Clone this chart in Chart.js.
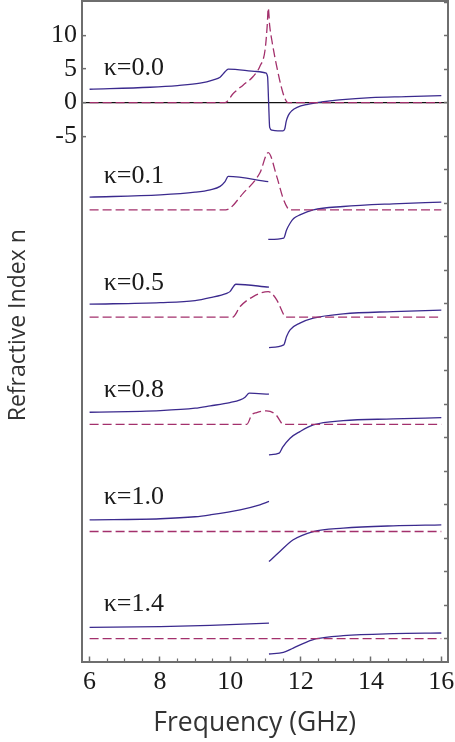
<!DOCTYPE html>
<html><head><meta charset="utf-8">
<script src="https://cdn.jsdelivr.net/npm/chart.js@4.4.0/dist/chart.umd.min.js"></script>
<style>html,body{margin:0;padding:0;background:#fff;}#wrap{width:455px;height:742px;position:relative;}</style>
</head><body><div id="wrap"><canvas id="c"></canvas></div>
<script>
// ---- data ----
const xTickValues = [6, 8, 10, 12, 14, 16];
const yTickValues = [10, 5, 0, -5];
const kappaLabels = ['κ=0.0', 'κ=0.1', 'κ=0.5', 'κ=0.8', 'κ=1.0', 'κ=1.4'];
const offsets = [0, -16, -32, -48, -64, -80];

// κ=0.0  (real part n, solid) and (imag part, dashed)
const reF_00 = [6.0, 7.72, 8.5, 9.14, 9.52, 9.71, 9.85, 9.94, 10.75, 11.0, 11.06, 11.09, 11.12, 11.18, 11.35, 11.5, 11.55, 11.59, 11.65, 11.75, 11.9, 12.2, 12.6, 13.1, 14.0, 15.0, 16.0];
const reN_00 = [2.0, 2.3, 2.55, 2.9, 3.4, 3.8, 4.6, 5.0, 4.65, 4.45, 3.9, 0.0, -3.7, -4.1, -4.2, -4.2, -3.9, -2.8, -1.9, -1.2, -0.7, -0.25, 0.1, 0.4, 0.75, 0.9, 1.05];
const imF_00 = [6.0, 9.85, 10.09, 10.37, 10.65, 10.84, 10.99, 11.05, 11.08, 11.12, 11.18, 11.32, 11.5, 11.6, 11.64, 16.0];
const imN_00 = [0, 0, 1.4, 2.65, 3.9, 5.4, 7.9, 11.5, 14.1, 11.5, 9.35, 5.4, 1.4, 0.15, 0, 0];

// κ=0.1
const reF_01 = [6.0, 8.01, 9.0, 9.43, 9.71, 9.85, 9.94, 11.08, 11.08, 11.08, 11.52, 11.6, 11.7, 11.8, 11.98, 12.36, 13.21, 14.63, 16.0];
const reN_01 = [1.9, 2.24, 2.64, 3.0, 3.5, 4.2, 5.0, 4.2, null, -4.4, -4.2, -3.0, -2.0, -1.3, -0.75, 0.0, 0.5, 0.9, 1.15];
const imF_01 = [6.0, 9.87, 10.37, 10.84, 11.08, 11.32, 11.5, 11.63, 11.67, 16.0];
const imN_01 = [0, 0, 2.5, 5.5, 8.55, 5.0, 1.75, 0.25, 0, 0];

// κ=0.5
const reF_05 = [6.0, 8.01, 9.0, 9.43, 9.9, 9.99, 10.16, 11.1, 11.1, 11.1, 11.52, 11.6, 11.7, 11.98, 12.36, 13.21, 14.63, 16.0];
const reN_05 = [1.92, 2.16, 2.46, 2.9, 3.55, 3.8, 4.9, 4.46, null, -4.55, -4.15, -2.9, -1.9, -0.9, -0.16, 0.48, 0.82, 1.03];
const imF_05 = [6.0, 10.07, 10.28, 10.65, 11.08, 11.32, 11.52, 11.56, 16.0];
const imN_05 = [0, 0, 1.57, 3.06, 3.8, 2.57, 0.33, 0, 0];

// κ=0.8
const reF_08 = [6.0, 8.01, 9.0, 9.43, 9.99, 10.28, 10.42, 10.54, 11.1, 11.1, 11.1, 11.39, 11.49, 11.7, 11.98, 12.36, 13.21, 14.63, 16.0];
const reN_08 = [1.8, 2.05, 2.4, 2.75, 3.24, 3.64, 4.04, 4.64, 4.49, null, -4.56, -4.31, -3.42, -2.07, -1.09, -0.09, 0.55, 0.8, 1.0];
const imF_08 = [6.0, 10.47, 10.61, 10.75, 11.03, 11.3, 11.46, 11.49, 16.0];
const imN_08 = [0, 0, 1.4, 1.75, 2.0, 1.4, 0.15, 0, 0];

// κ=1.0
const reF_10 = [6.0, 8.01, 9.0, 9.43, 10.28, 10.84, 11.1, 11.1, 11.1, 11.41, 11.79, 12.36, 13.21, 14.63, 16.0];
const reN_10 = [1.75, 1.9, 2.2, 2.49, 3.24, 3.98, 4.48, null, -4.48, -2.98, -1.24, 0.0, 0.5, 0.85, 1.0];
const imF_10 = [6.0, 16.0];
const imN_10 = [0, 0];

// κ=1.4
const reF_14 = [6.0, 8.01, 9.43, 11.1, 11.1, 11.1, 11.51, 11.79, 12.17, 12.45, 13.21, 14.63, 16.0];
const reN_14 = [1.69, 1.79, 1.98, 2.34, null, -2.28, -2.04, -1.39, -0.5, 0.0, 0.45, 0.75, 0.85];
const imF_14 = [6.0, 16.0];
const imN_14 = [0, 0];

const reF = [reF_00, reF_01, reF_05, reF_08, reF_10, reF_14];
const reN = [reN_00, reN_01, reN_05, reN_08, reN_10, reN_14];
const imF = [imF_00, imF_01, imF_05, imF_08, imF_10, imF_14];
const imN = [imN_00, imN_01, imN_05, imN_08, imN_10, imN_14];

// ---- styling / layout ----
const XMIN = 5.784, XMAX = 16.19, YMIN = -83.4, YMAX = 15.17;
const SOLID = '#3b2a8e', DASHED = '#a3306c', FRAME = '#6e6e6e';
const SERIF = '"Liberation Serif", "DejaVu Serif", serif';
const SANS = '"Open Sans", "Noto Sans", sans-serif';

Chart.defaults.font.family = SERIF;
Chart.defaults.font.size = 26;

function pts(F, N, off) {
  return F.map((f, i) => ({ x: f, y: N[i] === null ? null : N[i] + off }));
}

const datasets = [];
offsets.forEach((off, k) => {
  datasets.push({
    data: pts(imF[k], imN[k], off), borderColor: DASHED, borderWidth: 1.3, borderDash: [9, 4],
    pointRadius: 0, fill: false, cubicInterpolationMode: 'monotone', spanGaps: false
  });
  datasets.push({
    data: pts(reF[k], reN[k], off), borderColor: SOLID, borderWidth: 1.3,
    pointRadius: 0, fill: false, cubicInterpolationMode: 'monotone', spanGaps: false
  });
});

const minorX = [];
for (let v = xTickValues[0]; v <= xTickValues[xTickValues.length - 1] + 1e-9; v += 0.5) {
  if (!xTickValues.includes(v)) minorX.push(v);
}
const rightY = [];
for (let v = 15; v >= -80; v -= 5) rightY.push(v);

function noPad(s) { s.paddingTop = 0; s.paddingBottom = 0; s.paddingLeft = 0; s.paddingRight = 0; }

const kappaLabelPlugin = {
  id: 'kappaLabels',
  afterDatasetsDraw(chart) {
    const { ctx, scales: { x, y } } = chart;
    ctx.save();
    ctx.font = '26px ' + SERIF;
    ctx.fillStyle = '#1a1a1a';
    ctx.textAlign = 'left';
    ctx.textBaseline = 'middle';
    kappaLabels.forEach((t, i) => {
      ctx.fillText(t, x.getPixelForValue(6.4), y.getPixelForValue(offsets[i] + 5.1));
    });
    ctx.restore();
  }
};

new Chart(document.getElementById('c'), {
  type: 'line',
  data: { datasets },
  plugins: [kappaLabelPlugin],
  options: {
    responsive: true, maintainAspectRatio: false, animation: false, devicePixelRatio: 1,
    layout: { padding: { top: 1, left: 0, right: 0, bottom: 0 } },
    plugins: { legend: { display: false }, tooltip: { enabled: false } },
    elements: { line: { borderCapStyle: 'butt' } },
    scales: {
      x: {
        type: 'linear', position: 'bottom', min: XMIN, max: XMAX, weight: 1,
        afterBuildTicks: s => { s.ticks = xTickValues.map(v => ({ value: v })); },
        afterFit: s => { s.height = 80.5; noPad(s); },
        ticks: { font: { family: SERIF, size: 26 }, color: '#1a1a1a', padding: 10, maxRotation: 0, autoSkip: false, callback: v => String(v) },
        grid: { drawOnChartArea: false, drawTicks: true, tickLength: -5, tickColor: FRAME, tickWidth: 1.5 },
        border: { display: true, color: FRAME, width: 2 },
        title: { display: true, text: 'Frequency (GHz)   ', font: { family: SANS, size: 26.5 }, color: '#333', padding: { top: 0, bottom: 3 } }
      },
      xMinor: {
        type: 'linear', position: 'bottom', min: XMIN, max: XMAX, weight: 0,
        afterBuildTicks: s => { s.ticks = minorX.map(v => ({ value: v })); },
        afterFit: s => { s.height = 0; noPad(s); },
        ticks: { display: false },
        grid: { drawOnChartArea: false, drawTicks: true, tickLength: -3, tickColor: FRAME, tickWidth: 1.2 },
        border: { display: false }
      },
      xTop: {
        type: 'linear', position: 'top', min: XMIN, max: XMAX,
        afterFit: s => { s.height = 0; noPad(s); },
        ticks: { display: false },
        grid: { drawOnChartArea: false, drawTicks: false },
        border: { display: true, color: FRAME, width: 2 }
      },
      y: {
        type: 'linear', position: 'left', min: YMIN, max: YMAX,
        afterBuildTicks: s => { s.ticks = yTickValues.map(v => ({ value: v })); },
        afterFit: s => { s.width = 82; noPad(s); },
        ticks: { font: { family: SERIF, size: 26 }, color: '#1a1a1a', padding: 9, autoSkip: false, callback: v => String(v) },
        grid: {
          drawOnChartArea: true, drawTicks: true, tickLength: -4, tickColor: FRAME, tickWidth: 1.5,
          color: c => (c.tick && c.tick.value === 0 ? '#111' : 'rgba(0,0,0,0)'), lineWidth: 1.3
        },
        border: { display: true, color: FRAME, width: 2 },
        title: { display: true, text: '  Refractive Index n', font: { family: SANS, size: 23 }, color: '#333', padding: { top: 5, bottom: 0 } }
      },
      yRight: {
        type: 'linear', position: 'right', min: YMIN, max: YMAX,
        afterBuildTicks: s => { s.ticks = rightY.map(v => ({ value: v })); },
        afterFit: s => { s.width = 7; noPad(s); },
        ticks: { display: false },
        grid: { drawOnChartArea: false, drawTicks: true, tickLength: -4, tickColor: FRAME, tickWidth: 1.5 },
        border: { display: true, color: FRAME, width: 2 }
      }
    }
  }
});
</script></body></html>
